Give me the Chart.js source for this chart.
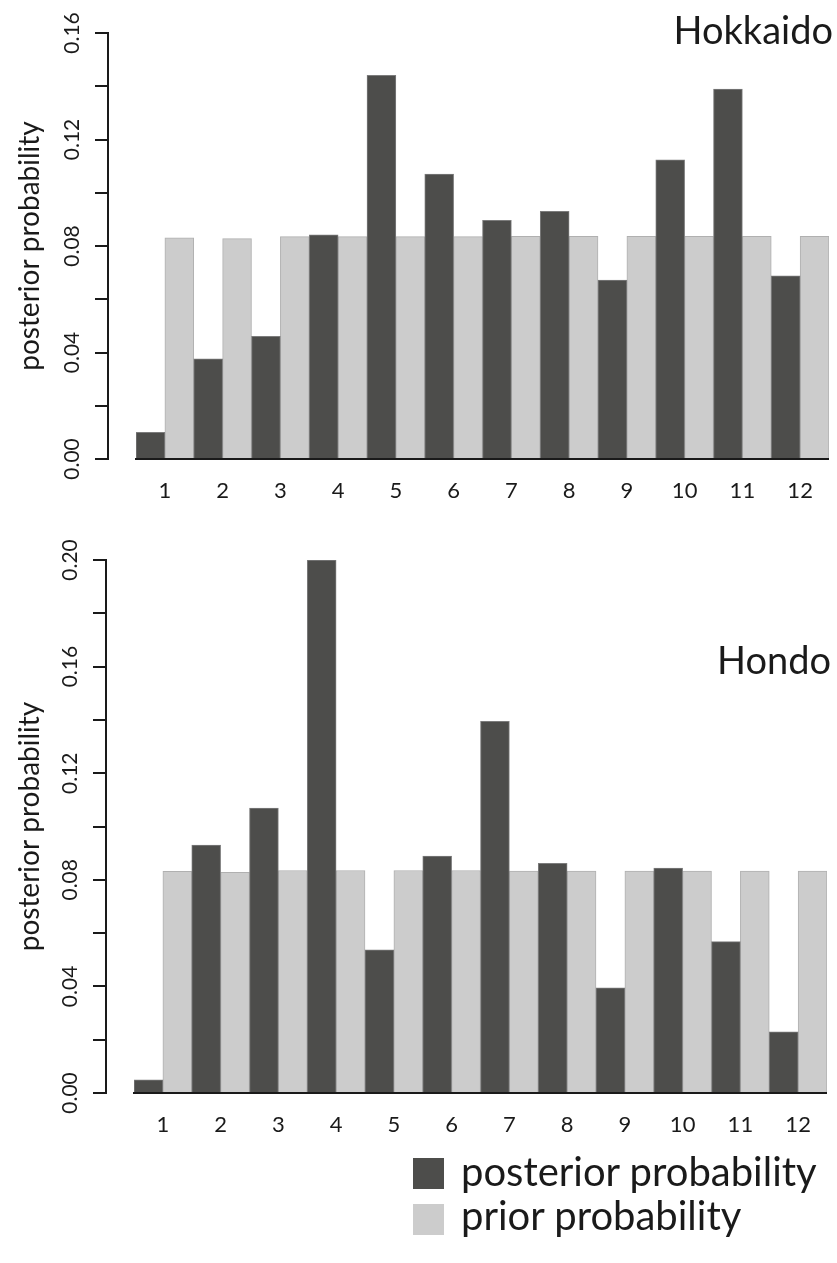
<!DOCTYPE html>
<html>
<head>
<meta charset="utf-8">
<script src="https://cdn.jsdelivr.net/npm/chart.js@4.4.1/dist/chart.umd.min.js"></script>
<style>
  html, body { margin: 0; padding: 0; background: #ffffff; }
  body { width: 837px; height: 1263px; position: relative; overflow: hidden;
         font-family: Lato, "Open Sans", sans-serif; color: #1a1a1a; }
  canvas { position: absolute; left: 0; }
  #c1 { top: 0; }
  #c2 { top: 530px; }
  .ptitle { position: absolute; font-size: 38px; line-height: 46px; white-space: nowrap; }
  .legbox { position: absolute; left: 413px; width: 31px; height: 31px; }
  .legtxt { position: absolute; left: 461px; font-size: 40px; line-height: 45px; white-space: nowrap; }
</style>
</head>
<body>
<canvas id="c1" width="837" height="520"></canvas>
<canvas id="c2" width="837" height="624"></canvas>
<div class="ptitle" id="t1" style="right:4px; top:6px;"></div>
<div class="ptitle" id="t2" style="right:6px; top:636px;"></div>
<div class="legbox" style="top:1158px; background:#4d4d4b;"></div>
<div class="legtxt" id="l1" style="top:1149px;"></div>
<div class="legbox" style="top:1204px; background:#cccccc;"></div>
<div class="legtxt" id="l2" style="top:1193px;"></div>
<script>
// ---- data ----
const categories = ['1','2','3','4','5','6','7','8','9','10','11','12'];
const seriesNames = ['posterior probability', 'prior probability'];
const panelNames = ['Hokkaido', 'Hondo'];
const yTitle = 'posterior probability';

const hokkaidoPosterior = [0.010, 0.0376, 0.0461, 0.0842, 0.1441, 0.1070, 0.0896, 0.0930, 0.0672, 0.1124, 0.1389, 0.0688];
const hokkaidoPrior     = [0.0831, 0.0828, 0.0835, 0.0835, 0.0835, 0.0835, 0.0836, 0.0836, 0.0836, 0.0836, 0.0836, 0.0836];
const hondoPosterior    = [0.0049, 0.0930, 0.1069, 0.2000, 0.0537, 0.0889, 0.1395, 0.0862, 0.0395, 0.0844, 0.0568, 0.0230];
const hondoPrior        = [0.0832, 0.0828, 0.0835, 0.0835, 0.0835, 0.0835, 0.0833, 0.0833, 0.0833, 0.0833, 0.0833, 0.0833];

const hokkaidoTickLabels = [0.00, 0.04, 0.08, 0.12, 0.16];
const hondoTickLabels    = [0.00, 0.04, 0.08, 0.12, 0.16, 0.20];

// ---- text ----
document.getElementById('t1').textContent = panelNames[0];
document.getElementById('t2').textContent = panelNames[1];
document.getElementById('l1').textContent = seriesNames[0];
document.getElementById('l2').textContent = seriesNames[1];

// move the y axis a little to the left of the plotting area
const shiftAxis = {
  id: 'shiftAxis',
  afterLayout(chart, args, opts) {
    const s = chart.scales.y;
    s.left -= opts.gap;
    s.right -= opts.gap;
  }
};

function makeChart(id, post, prior, yMax, labeled, g) {
  return new Chart(document.getElementById(id), {
    type: 'bar',
    data: {
      labels: categories,
      datasets: [
        { label: seriesNames[0], data: post, backgroundColor: '#4d4d4b', borderColor: '#7c7c7c',
          borderWidth: 1, barPercentage: 1, categoryPercentage: 1 },
        { label: seriesNames[1], data: prior, backgroundColor: '#cccccc', borderColor: '#b0b0b0',
          borderWidth: 1, barPercentage: 1, categoryPercentage: 1 }
      ]
    },
    options: {
      responsive: false,
      animation: false,
      devicePixelRatio: 1,
      layout: { padding: { top: g.padTop, right: g.padRight, bottom: g.padBottom, left: 0 } },
      plugins: {
        legend: { display: false },
        tooltip: { enabled: false },
        shiftAxis: { gap: g.gap }
      },
      scales: {
        x: {
          type: 'category',
          offset: true,
          grid: { display: true, drawOnChartArea: false, drawTicks: false, lineWidth: 0 },
          border: { display: true, color: '#1a1a1a', width: 2 },
          ticks: { font: { family: 'Lato', size: 22 }, color: '#1a1a1a', padding: 19,
                   maxRotation: 0, minRotation: 0, autoSkip: false },
          afterFit: s => { s.height = g.xHeight; }
        },
        y: {
          min: 0,
          max: yMax,
          ticks: {
            stepSize: 0.02,
            font: { family: 'Lato', size: 21 },
            color: '#1a1a1a',
            padding: 2,
            minRotation: 90,
            maxRotation: 90,
            crossAlign: 'center',
            autoSkip: false,
            callback: v => labeled.some(t => Math.abs(t - v) < 1e-6) ? Number(v).toFixed(2) : ''
          },
          grid: { drawOnChartArea: false, drawTicks: true, tickLength: 13, color: '#1a1a1a', lineWidth: 2 },
          border: { display: true, color: '#1a1a1a', width: 2 },
          title: { display: true, text: yTitle, font: { family: 'Lato', size: 28 }, color: '#1a1a1a',
                   padding: { top: 41, bottom: 0 } },
          afterFit: s => { s.width = g.yWidth; }
        }
      }
    },
    plugins: [shiftAxis]
  });
}

makeChart('c1', hokkaidoPosterior, hokkaidoPrior, 0.16, hokkaidoTickLabels,
  { padTop: 33, padRight: 8, padBottom: 11, xHeight: 50, yWidth: 136, gap: 28 });
makeChart('c2', hondoPosterior, hondoPrior, 0.20, hondoTickLabels,
  { padTop: 30, padRight: 10, padBottom: 11, xHeight: 50, yWidth: 134, gap: 28 });
</script>
</body>
</html>
